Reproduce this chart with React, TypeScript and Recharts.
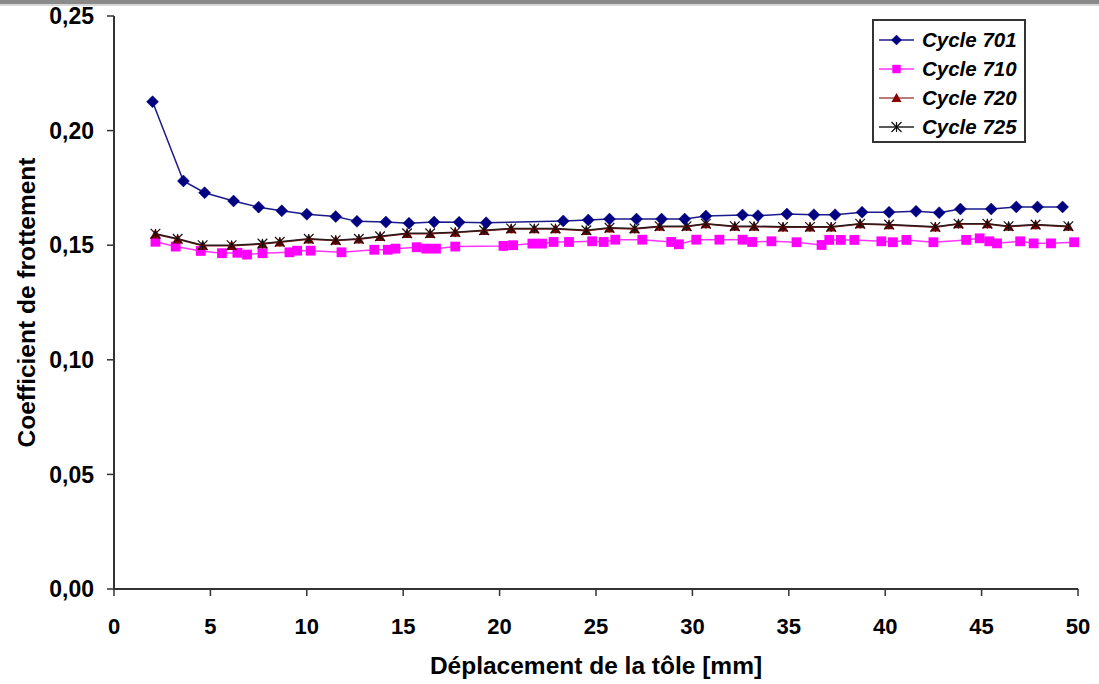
import React from 'react';
import { LineChart, Line, XAxis, YAxis } from 'recharts';

const x701 = [2.0, 3.6, 4.7, 6.2, 7.5, 8.7, 10.0, 11.5, 12.6, 14.1, 15.3, 16.6, 17.9, 19.3, 23.3, 24.6, 25.7, 27.1, 28.4, 29.6, 30.7, 32.6, 33.4, 34.9, 36.3, 37.4, 38.8, 40.2, 41.6, 42.8, 43.9, 45.5, 46.8, 47.9, 49.2];
const y701 = [0.2126, 0.1780, 0.1729, 0.1693, 0.1666, 0.1650, 0.1635, 0.1625, 0.1604, 0.1601, 0.1596, 0.1601, 0.1600, 0.1598, 0.1606, 0.1610, 0.1614, 0.1614, 0.1614, 0.1614, 0.1627, 0.1632, 0.1629, 0.1636, 0.1633, 0.1633, 0.1644, 0.1644, 0.1648, 0.1642, 0.1658, 0.1658, 0.1667, 0.1667, 0.1667];

const x710 = [2.15, 3.2, 4.5, 5.6, 6.4, 6.9, 7.7, 9.1, 9.5, 10.2, 11.8, 13.5, 14.2, 14.6, 15.7, 16.2, 16.7, 17.7, 20.2, 20.7, 21.7, 22.2, 22.8, 23.6, 24.8, 25.4, 26.0, 27.4, 28.9, 29.3, 30.2, 31.4, 32.6, 33.1, 34.1, 35.4, 36.7, 37.1, 37.7, 38.4, 39.8, 40.4, 41.1, 42.5, 44.2, 44.9, 45.4, 45.8, 47.0, 47.7, 48.6, 49.8];
const y710 = [0.1515, 0.1494, 0.1475, 0.1465, 0.1467, 0.1459, 0.1465, 0.1469, 0.1476, 0.1476, 0.1469, 0.1480, 0.1480, 0.1485, 0.1491, 0.1485, 0.1485, 0.1494, 0.1497, 0.1500, 0.1507, 0.1507, 0.1514, 0.1514, 0.1517, 0.1514, 0.1524, 0.1524, 0.1514, 0.1504, 0.1524, 0.1524, 0.1524, 0.1514, 0.1517, 0.1513, 0.1501, 0.1523, 0.1523, 0.1523, 0.1517, 0.1513, 0.1523, 0.1513, 0.1523, 0.1530, 0.1517, 0.1508, 0.1517, 0.1508, 0.1508, 0.1513];

const x720 = [2.15, 3.3, 4.6, 6.1, 7.7, 8.6, 10.1, 11.5, 12.7, 13.8, 15.2, 16.4, 17.7, 19.2, 20.6, 21.8, 22.9, 24.5, 25.7, 27.0, 28.3, 29.7, 30.7, 32.2, 33.2, 34.7, 36.1, 37.2, 38.7, 40.2, 42.6, 43.8, 45.3, 46.4, 47.8, 49.5];
const y720 = [0.1548, 0.1526, 0.1498, 0.1498, 0.1505, 0.1513, 0.1526, 0.1520, 0.1526, 0.1537, 0.1550, 0.1550, 0.1555, 0.1563, 0.1571, 0.1571, 0.1571, 0.1563, 0.1574, 0.1571, 0.1581, 0.1581, 0.1592, 0.1581, 0.1581, 0.1578, 0.1578, 0.1578, 0.1592, 0.1588, 0.1578, 0.1592, 0.1592, 0.1581, 0.1588, 0.1581];

const x725 = [2.15, 3.3, 4.6, 6.1, 7.7, 8.6, 10.1, 11.5, 12.7, 13.8, 15.2, 16.4, 17.7, 19.2, 20.6, 21.8, 22.9, 24.5, 25.7, 27.0, 28.3, 29.7, 30.7, 32.2, 33.2, 34.7, 36.1, 37.2, 38.7, 40.2, 42.6, 43.8, 45.3, 46.4, 47.8, 49.5];
const y725 = [0.1550, 0.1528, 0.1500, 0.1500, 0.1507, 0.1515, 0.1528, 0.1522, 0.1528, 0.1539, 0.1552, 0.1552, 0.1557, 0.1565, 0.1573, 0.1573, 0.1573, 0.1565, 0.1576, 0.1573, 0.1583, 0.1583, 0.1594, 0.1583, 0.1583, 0.1580, 0.1580, 0.1580, 0.1594, 0.1590, 0.1580, 0.1594, 0.1594, 0.1583, 0.1590, 0.1583];

const xTicks = [0, 5, 10, 15, 20, 25, 30, 35, 40, 45, 50];
const yTicks = [0, 0.05, 0.1, 0.15, 0.2, 0.25];
const seriesNames = ['Cycle 701', 'Cycle 710', 'Cycle 720', 'Cycle 725'];

const zip = (xs: number[], ys: number[]) => xs.map((x, i) => ({ x, y: ys[i] }));
const d701 = zip(x701, y701);
const d710 = zip(x710, y710);
const d720 = zip(x720, y720);
const d725 = zip(x725, y725);

const FONT = '"Liberation Sans", Arial, sans-serif';

const Diamond = ({ cx, cy, s = 6 }: any) => (
  <path d={`M${cx},${cy - s}L${cx + s},${cy}L${cx},${cy + s}L${cx - s},${cy}Z`} fill="#000080" stroke="#000080" strokeWidth={0.5} />
);
const Square = ({ cx, cy, s = 4.9 }: any) => (
  <rect x={cx - s} y={cy - s} width={2 * s} height={2 * s} fill="#ff00ff" />
);
const Triangle = ({ cx, cy, s = 5.3 }: any) => (
  <path d={`M${cx},${cy - s}L${cx + s},${cy + s * 0.8}L${cx - s},${cy + s * 0.8}Z`} fill="#8b0000" />
);
const Star = ({ cx, cy, s = 4.8 }: any) => (
  <g stroke="#111" strokeWidth={1.2}>
    <line x1={cx} y1={cy - s} x2={cx} y2={cy + s} />
    <line x1={cx - s} y1={cy - s} x2={cx + s} y2={cy + s} />
    <line x1={cx - s} y1={cy + s} x2={cx + s} y2={cy - s} />
  </g>
);

const mk = (Comp: any) => (props: any) => {
  if (props.cx == null || props.cy == null) return <g key={`e-${props.index}`} />;
  return <Comp key={`m-${props.index}`} cx={props.cx} cy={props.cy} />;
};

const legendItems = [
  { name: seriesNames[0], color: '#1a1a8c', Icon: Diamond },
  { name: seriesNames[1], color: '#ff33ff', Icon: Square },
  { name: seriesNames[2], color: '#a05050', Icon: Triangle },
  { name: seriesNames[3], color: '#222', Icon: Star },
];

const LegendBox = () => (
  <div
    style={{
      position: 'absolute',
      left: 872,
      top: 19,
      width: 150,
      height: 120,
      border: '2px solid #333',
      background: '#fff',
      fontFamily: FONT,
      fontWeight: 'bold',
      fontStyle: 'italic',
      fontSize: 20.5,
      color: '#000',
      boxSizing: 'content-box',
    }}
  >
    {legendItems.map((it, i) => (
      <div key={i} style={{ display: 'flex', alignItems: 'center', height: 29.2, marginTop: i === 0 ? 4 : 0 }}>
        <svg width={48} height={20} style={{ display: 'block' }}>
          <line x1={5} y1={10} x2={40} y2={10} stroke={it.color} strokeWidth={1.5} />
          <it.Icon cx={22.5} cy={10} s={it.Icon === Square ? 4.2 : 5} />
        </svg>
        <span style={{ lineHeight: '20px' }}>{it.name}</span>
      </div>
    ))}
  </div>
);

export default function App() {
  return (
    <div style={{ position: 'absolute', left: 0, top: 0, width: 1099, height: 684, background: '#fff' }}>
      <div style={{ position: 'absolute', left: 0, top: 0, width: 1099, height: 4, background: '#8a8a8a' }} />
      <div style={{ position: 'absolute', left: 0, top: 4, width: 1099, height: 2, background: '#d8d8d8' }} />
      <LineChart width={1099} height={684} margin={{ top: 16, right: 21, left: 0, bottom: 0 }}>
        <XAxis
          dataKey="x"
          type="number"
          domain={[0, 50]}
          ticks={xTicks}
          height={95}
          tickSize={7}
          tickMargin={22}
          axisLine={{ stroke: '#333', strokeWidth: 2 }}
          tickLine={{ stroke: '#333', strokeWidth: 1.5 }}
          tick={{ fill: '#000', fontSize: 22, fontWeight: 'bold', fontFamily: FONT }}
          label={{ value: 'Déplacement de la tôle [mm]', position: 'insideBottom', offset: 10, fill: '#000', fontSize: 24.5, fontWeight: 'bold', fontFamily: FONT }}
          allowDuplicatedCategory={false}
        />
        <XAxis xAxisId="top" orientation="top" type="number" domain={[0, 50]} height={0} tick={false} tickLine={false} axisLine={{ stroke: '#444', strokeWidth: 2 }} />
        <YAxis
          type="number"
          domain={[0, 0.25]}
          ticks={yTicks}
          width={114}
          tickSize={7}
          tickMargin={13}
          tickFormatter={(v: number) => v.toFixed(2).replace('.', ',')}
          axisLine={{ stroke: '#333', strokeWidth: 2 }}
          tickLine={{ stroke: '#333', strokeWidth: 1.5 }}
          tick={{ fill: '#000', fontSize: 23, fontWeight: 'bold', fontFamily: FONT }}
          label={{ value: 'Coefficient de frottement', angle: -90, position: 'insideLeft', offset: 26, fill: '#000', fontSize: 24.5, fontWeight: 'bold', fontFamily: FONT, style: { textAnchor: 'middle' } }}
        />
        <YAxis yAxisId="right" orientation="right" type="number" domain={[0, 1]} width={0} tick={false} tickLine={false} axisLine={{ stroke: '#444', strokeWidth: 2 }} />
        <Line data={d710} dataKey="y" name={seriesNames[1]} stroke="#ff33ff" strokeWidth={1.5} dot={mk(Square)} isAnimationActive={false} legendType="none" />
        <Line data={d720} dataKey="y" name={seriesNames[2]} stroke="#8b2020" strokeWidth={1.5} dot={mk(Triangle)} isAnimationActive={false} legendType="none" />
        <Line data={d725} dataKey="y" name={seriesNames[3]} stroke="#2a1a1a" strokeWidth={1.5} dot={mk(Star)} isAnimationActive={false} legendType="none" />
        <Line data={d701} dataKey="y" name={seriesNames[0]} stroke="#1a1a8c" strokeWidth={1.5} dot={mk(Diamond)} isAnimationActive={false} legendType="none" />
      </LineChart>
      <LegendBox />
    </div>
  );
}
